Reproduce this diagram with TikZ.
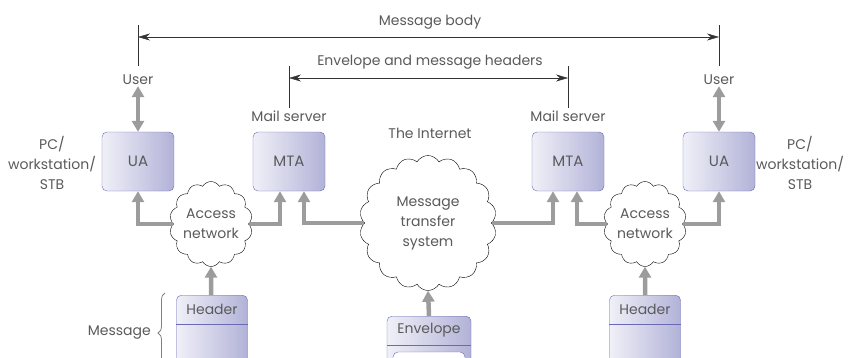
\documentclass[tikz,border=0pt]{standalone}
\usepackage{fontspec}
\setmainfont{Poppins}
\usetikzlibrary{arrows.meta,positioning,shapes.symbols,calc,decorations.pathreplacing}
\definecolor{boxline}{HTML}{6A6AB4}
\definecolor{boxdark}{HTML}{B2B2D8}
\definecolor{boxlight}{HTML}{F0F0F8}
\definecolor{pipegray}{HTML}{9C9C9C}
\definecolor{txtgray}{HTML}{5A5A5A}
\tikzset{
    arr/.style={<->,>={Stealth[length=12pt,width=7pt]},thin,black!80},
    tickline/.style={thin,black!80},
    pipe/.style={-{Triangle[length=11pt,width=12pt]},line width=4.5pt,pipegray},
    dpipe/.style={{Triangle[length=11pt,width=12pt]}-{Triangle[length=11pt,width=12pt]},line width=4.5pt,pipegray},
    agent/.style={draw=boxline,rounded corners=5pt,left color=boxlight,right color=boxdark,
        minimum width=72pt,minimum height=59pt,text=txtgray,font=\fontsize{15}{20}\selectfont},
    net/.style={cloud,draw,fill=white,cloud puffs=14,cloud puff arc=120,cloud ignores aspect,
        minimum width=83pt,minimum height=85pt,inner sep=-4pt,align=center,text=txtgray},
    lbl/.style={text=txtgray,align=center,inner sep=1pt},
}
\tikzstyle{every node}=[font=\fontsize{14}{20}\selectfont]

\begin{document}
\begin{tikzpicture}[x=1pt,y=-1pt]
        \useasboundingbox (0,0) rectangle (848,357);
        \clip (0,0) rectangle (848,357);

        \node[lbl] (body) at (430,22) {Message body};
        \node[lbl] (envhead) at (430,62) {Envelope and message headers};
        \node[lbl] (user1) at (138,80) {User};
        \node[lbl] (user2) at (719,80) {User};
        \node[lbl] (mserv1) at (289,116) {Mail server};
        \node[lbl] (mserv2) at (568,116) {Mail server};
        \node[lbl] (inet) at (430,133) {The Internet};
        \node[lbl] (pc1) at (52,163) {PC/\\workstation/\\STB};
        \node[lbl] (pc2) at (800,163) {PC/\\workstation/\\STB};

        \node[agent] (ua1) at (138,161.5) {UA};
        \node[agent] (mta1) at (289,161.5) {MTA};
        \node[agent] (mta2) at (568,161.5) {MTA};
        \node[agent] (ua2) at (719,161.5) {UA};

        \node[net] (acc1) at (211,224) {Access\\network};
        \node[net] (acc2) at (645,224) {Access\\network};
        \node[net,cloud puffs=18,minimum width=137pt,minimum height=135pt] (mts) at (428,223)
            {Message\\transfer\\system};

        \node[agent,minimum width=71pt,minimum height=120pt,anchor=north] (msg1) at (212,295) {};
        \node[agent,minimum width=71pt,minimum height=120pt,anchor=north] (msg2) at (645,295) {};
        \node[agent,minimum width=84pt,minimum height=120pt,anchor=north] (env) at (429,316) {};
        \draw[boxline] (msg1.west |- 0,324) -- (msg1.east |- 0,324);
        \draw[boxline] (msg2.west |- 0,324) -- (msg2.east |- 0,324);
        \draw[boxline] (env.west |- 0,345) -- (env.east |- 0,345);
        \draw[boxline,fill=white,rounded corners=5pt] (393,352) rectangle (465,420);
        \node[lbl] (hdr1) at (212,309) {Header};
        \node[lbl] (hdr2) at (645,309) {Header};
        \node[lbl] (bdy1) at (212,366) {Body};
        \node[lbl] (bdy2) at (645,366) {Body};
        \node[lbl] (envlbl) at (429,330) {Envelope};

        \draw[tickline] (138,25) -- (138,66);
        \draw[tickline] (719,25) -- (719,66);
        \draw[arr] (138,37) -- (719,37);
        \draw[tickline] (289,66) -- (289,108);
        \draw[tickline] (568,66) -- (568,108);
        \draw[arr] (289,78) -- (568,78);

        \draw[dpipe] (user1) -- (ua1);
        \draw[dpipe] (user2) -- (ua2);
        \draw[pipe] (acc1.west) -| (ua1.south);
        \draw[pipe] (acc1.east) -| ([xshift=-9pt]mta1.south);
        \draw[pipe] (mts.west) -| ([xshift=15pt]mta1.south);
        \draw[pipe] (mts.east) -| ([xshift=-15pt]mta2.south);
        \draw[pipe] (acc2.west) -| ([xshift=9pt]mta2.south);
        \draw[pipe] (acc2.east) -| (ua2.south);
        \draw[pipe] (msg1.north -| acc1) -- (acc1.south);
        \draw[pipe] (msg2.north) -- (acc2.south);
        \draw[pipe] (env.north) -- (mts.south);

        \draw[gray,line width=0.8pt,decorate,decoration={brace,amplitude=7pt,aspect=0.5}] (165,373) -- (165,293);
        \node[lbl,anchor=east] (msglbl) at (152,333) {Message};
\end{tikzpicture}
\end{document}
